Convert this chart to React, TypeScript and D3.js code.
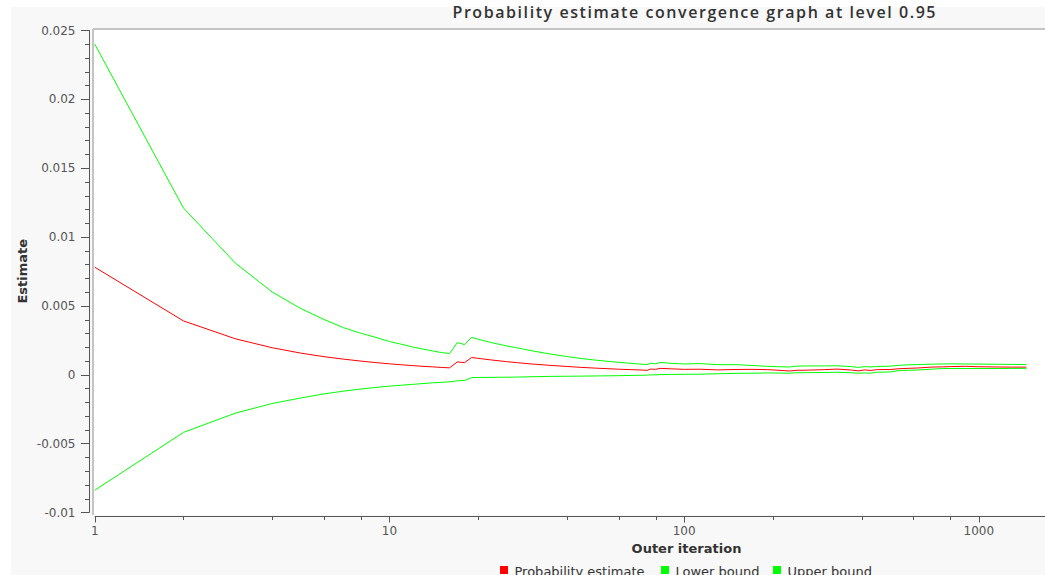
import React from "react";
import * as d3 from "d3";

const title = "Probability estimate convergence graph at level 0.95";
const xLabel = "Outer iteration";
const yLabel = "Estimate";
const seriesNames = ["Probability estimate", "Lower bound", "Upper bound"];
const seriesColors = ["#ff0000", "#00ff00", "#00ff00"];

const iterations = [1, 2, 3, 4, 5, 6, 7, 8, 9, 10, 11, 12, 13, 14, 15, 16, 17, 18, 19, 20,
  22, 25, 27, 30, 35, 40, 45, 50, 60, 70, 75, 77, 80, 83, 90, 100, 113, 130, 150, 170, 192,
  210, 228, 240, 260, 300, 330, 370, 390, 410, 430, 450, 500, 540, 620, 700, 760, 800, 900,
  1000, 1168, 1300, 1450];
const estimate = [0.0078, 0.0039, 0.0026, 0.00195, 0.00156, 0.0013, 0.00112, 0.00098, 0.00087, 0.00078,
  0.00071, 0.00065, 0.0006, 0.00056, 0.00052, 0.00049, 0.00092, 0.00087, 0.00124, 0.00118,
  0.00107, 0.00094, 0.00087, 0.00078, 0.00067, 0.00059, 0.00052, 0.00047, 0.00039, 0.00034, 0.00031,
  0.0004, 0.00038, 0.00045, 0.00042, 0.00038, 0.00039, 0.00034, 0.00037, 0.00038, 0.00036,
  0.00031, 0.00026, 0.00031, 0.00032, 0.00036, 0.0004, 0.00033, 0.00027, 0.00034, 0.0003, 0.00036,
  0.00037, 0.00043, 0.00048, 0.00055, 0.00056, 0.00058, 0.0006, 0.00057, 0.00055, 0.00054, 0.00054];
const lower = [-0.0084, -0.0042, -0.0028, -0.0021, -0.0017, -0.0014, -0.0012, -0.00105, -0.00093, -0.00084,
  -0.00077, -0.00071, -0.00065, -0.0006, -0.00056, -0.00053, -0.00045, -0.00043, -0.00022, -0.00021,
  -0.0002, -0.00019, -0.00018, -0.00016, -0.00013, -0.00012, -0.00011, -0.0001, -0.00008, -0.00005, -0.00004,
  -0.00002, -0.00002, 0.0, 0.00001, 0.00002, 0.00003, 0.00006, 0.00009, 0.0001, 0.00012,
  0.00011, 0.0001, 0.00013, 0.00014, 0.00015, 0.00017, 0.00013, 0.0001, 0.00012, 0.0001, 0.00017,
  0.00019, 0.0003, 0.00033, 0.0004, 0.00044, 0.00044, 0.00044, 0.00044, 0.00044, 0.00045, 0.00045];
const upper = [0.024, 0.0121, 0.0081, 0.006, 0.0048, 0.004, 0.0034, 0.003, 0.0027, 0.0024,
  0.0022, 0.002, 0.00185, 0.00172, 0.0016, 0.00153, 0.00232, 0.00218, 0.0027, 0.00257,
  0.00234, 0.00208, 0.00195, 0.00175, 0.0015, 0.00131, 0.00116, 0.00105, 0.00089, 0.00077, 0.00073,
  0.00083, 0.00078, 0.00088, 0.00082, 0.00077, 0.0008, 0.00072, 0.00072, 0.00066, 0.0006,
  0.00057, 0.00055, 0.00061, 0.00063, 0.00063, 0.00064, 0.00058, 0.00052, 0.00058, 0.00055, 0.00059,
  0.00061, 0.00068, 0.00073, 0.00076, 0.00077, 0.00078, 0.00077, 0.00076, 0.00075, 0.00074, 0.00073];

const yTickValues = [-0.01, -0.005, 0, 0.005, 0.01, 0.015, 0.02, 0.025];
const yTickLabels = ["-0.01", "-0.005", "0", "0.005", "0.01", "0.015", "0.02", "0.025"];
const xTickValues = [1, 10, 100, 1000];
const xTickLabels = ["1", "10", "100", "1000"];

const W = 1045;
const H = 575;

export default function App() {
  const x = d3.scaleLog().domain([1, 10380]).range([94.7, 1278.3]);
  const y = d3.scaleLinear().domain([-0.01, 0.025]).range([512.3, 30.3]);

  const yMinor = d3.range(-10, 26).map((i) => i / 1000);
  const xMinor: number[] = [];
  for (const dec of [1, 10, 100, 1000]) for (const m of [2, 4, 6, 8]) xMinor.push(dec * m);

  const mk = (vals: number[]) =>
    d3.line<number>()
      .x((_, i) => x(iterations[i]))
      .y((d) => y(d))(vals) || "";

  const series = [estimate, lower, upper];
  const legendX = [500, 661, 773];
  const axisColor = "#555";
  const tickFont = { fontFamily: "DejaVu Sans", fontSize: 12, fill: "#555" } as const;

  return (
    <svg width={W} height={H} style={{ position: "absolute", left: 0, top: 0, background: "#fff" }}>
      <rect x={11} y={7} width={W} height={H} fill="#f8f8f8" />
      <rect x={93} y={29} width={W} height={486} fill="#ffffff" />
      <line x1={93} x2={W} y1={29} y2={29} stroke="#c4c4c4" strokeWidth={2} />
      <line x1={93} x2={93} y1={29} y2={515} stroke="#c4c4c4" strokeWidth={2} />

      <text x={694} y={17.5} textAnchor="middle" fontFamily="Open Sans" fontWeight={600} fontSize={16}
        fill="#333" textLength={483}>{title}</text>

      {/* y axis */}
      <line x1={89.5} x2={89.5} y1={y(0.025)} y2={y(-0.01)} stroke={axisColor} strokeWidth={1} />
      {yMinor.map((v) => (
        <line key={"ym" + v} x1={85} x2={89.5} y1={Math.round(y(v)) + 0.5} y2={Math.round(y(v)) + 0.5}
          stroke={axisColor} strokeWidth={1} />
      ))}
      {yTickValues.map((v, i) => (
        <g key={"yt" + v}>
          <line x1={81} x2={89.5} y1={Math.round(y(v)) + 0.5} y2={Math.round(y(v)) + 0.5} stroke={axisColor} strokeWidth={1} />
          <text x={75.5} y={y(v) + 4.3} textAnchor="end" {...tickFont}>{yTickLabels[i]}</text>
        </g>
      ))}
      <text transform={`translate(27,${(y(0.025) + y(-0.01)) / 2}) rotate(-90)`} textAnchor="middle"
        fontFamily="DejaVu Sans" fontWeight="bold" fontSize={13} fill="#333">{yLabel}</text>

      {/* x axis */}
      <line x1={94.7} x2={W} y1={516.5} y2={516.5} stroke={axisColor} strokeWidth={1} />
      {xMinor.map((v) => (
        <line key={"xm" + v} x1={Math.round(x(v)) + 0.5} x2={Math.round(x(v)) + 0.5} y1={516.5} y2={520}
          stroke={axisColor} strokeWidth={1} />
      ))}
      {xTickValues.map((v, i) => (
        <g key={"xt" + v}>
          <line x1={Math.round(x(v)) + 0.5} x2={Math.round(x(v)) + 0.5} y1={516.5} y2={522.5} stroke={axisColor} strokeWidth={1} />
          <text x={x(v)} y={535} textAnchor="middle" {...tickFont}>{xTickLabels[i]}</text>
        </g>
      ))}
      <text x={686.5} y={552.5} textAnchor="middle" fontFamily="DejaVu Sans" fontWeight="bold" fontSize={13}
        fill="#333">{xLabel}</text>

      {/* series */}
      <g clipPath="url(#plotclip)">
        {series.map((s, i) => (
          <path key={"s" + i} d={mk(s)} fill="none" stroke={seriesColors[i]} strokeWidth={1} />
        ))}
      </g>
      <defs>
        <clipPath id="plotclip">
          <rect x={93} y={29} width={W} height={487} />
        </clipPath>
      </defs>

      {/* legend */}
      {seriesNames.map((n, i) => (
        <g key={"lg" + i}>
          <rect x={legendX[i]} y={566} width={8} height={8} fill={seriesColors[i]} />
          <text x={legendX[i] + 14.5} y={576} fontFamily="DejaVu Sans" fontSize={13} fill="#333">{n}</text>
        </g>
      ))}
    </svg>
  );
}
